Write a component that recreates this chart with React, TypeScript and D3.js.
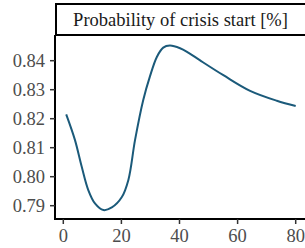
import * as d3 from "d3";

const title = "Probability of crisis start [%]";
const xTicks = [0, 20, 40, 60, 80];
const yTicks = [0.79, 0.8, 0.81, 0.82, 0.83, 0.84];
const horizon = [1, 4, 6.3, 8.6, 10.9, 13.8, 16.7, 20.1, 22.4, 24.7, 27.5, 29.8, 32.2, 34.4, 36.7, 40.2, 43, 47.1, 55.1, 64.3, 73.5, 80];
const prob = [0.8215, 0.8127, 0.8036, 0.7954, 0.7908, 0.7885, 0.7894, 0.7929, 0.7989, 0.8127, 0.8264, 0.8345, 0.8413, 0.8445, 0.8452, 0.8443, 0.8428, 0.8401, 0.8350, 0.8296, 0.8262, 0.8244];

const WIDTH = 305;
const HEIGHT = 248;
const PANEL = { left: 55, top: 35, bottom: 219 };
const STRIP_TOP = 4;
const INK = "#4d4d4d";
const FONT = "'Liberation Serif', Tinos, 'Times New Roman', serif";

const x = d3.scaleLinear().domain([0, 80]).range([63.3, 295.7]);
const y = d3.scaleLinear().domain([0.79, 0.84]).range([205.7, 60.7]);

export default function App() {
  const pts = horizon.map((h, i) => [h, prob[i]] as [number, number]);
  const line = d3
    .line<[number, number]>()
    .x((p) => x(p[0]))
    .y((p) => y(p[1]))
    .curve(d3.curveCatmullRom);

  return (
    <div style={{ position: "absolute", left: 0, top: 0 }}>
      <svg width={WIDTH} height={HEIGHT} style={{ display: "block", background: "#fff", fontFamily: FONT }}>
        <path d={line(pts) ?? ""} fill="none" stroke="#1b5a7a" strokeWidth={2} />
        {/* strip */}
        <rect
          x={PANEL.left + 1}
          y={STRIP_TOP}
          width={WIDTH}
          height={PANEL.top - STRIP_TOP}
          fill="#fff"
          stroke="#000"
          strokeWidth={2}
        />
        <text
          x={(PANEL.left + WIDTH) / 2 + 0.5}
          y={26}
          textAnchor="middle"
          fontSize={18.5}
          fill="#1a1a1a"
        >
          {title}
        </text>
        {/* axes */}
        <line x1={PANEL.left} x2={PANEL.left} y1={PANEL.top} y2={PANEL.bottom} stroke="#000" strokeWidth={2} />
        <line x1={PANEL.left - 1} x2={WIDTH} y1={PANEL.bottom} y2={PANEL.bottom} stroke="#000" strokeWidth={2} />
        {yTicks.map((t) => (
          <g key={t}>
            <line x1={PANEL.left - 5} x2={PANEL.left} y1={y(t)} y2={y(t)} stroke="#333" strokeWidth={1.5} />
            <text
              x={PANEL.left - 10}
              y={y(t)}
              dy="0.34em"
              textAnchor="end"
              fontSize={18.5}
              fill={INK}
            >
              {d3.format(".2f")(t)}
            </text>
          </g>
        ))}
        {xTicks.map((t) => (
          <g key={t}>
            <line x1={x(t)} x2={x(t)} y1={PANEL.bottom} y2={PANEL.bottom + 5} stroke="#333" strokeWidth={1.5} />
            <text
              x={x(t)}
              y={PANEL.bottom + 23}
              textAnchor="middle"
              fontSize={18.5}
              fill={INK}
            >
              {t}
            </text>
          </g>
        ))}
      </svg>
    </div>
  );
}
